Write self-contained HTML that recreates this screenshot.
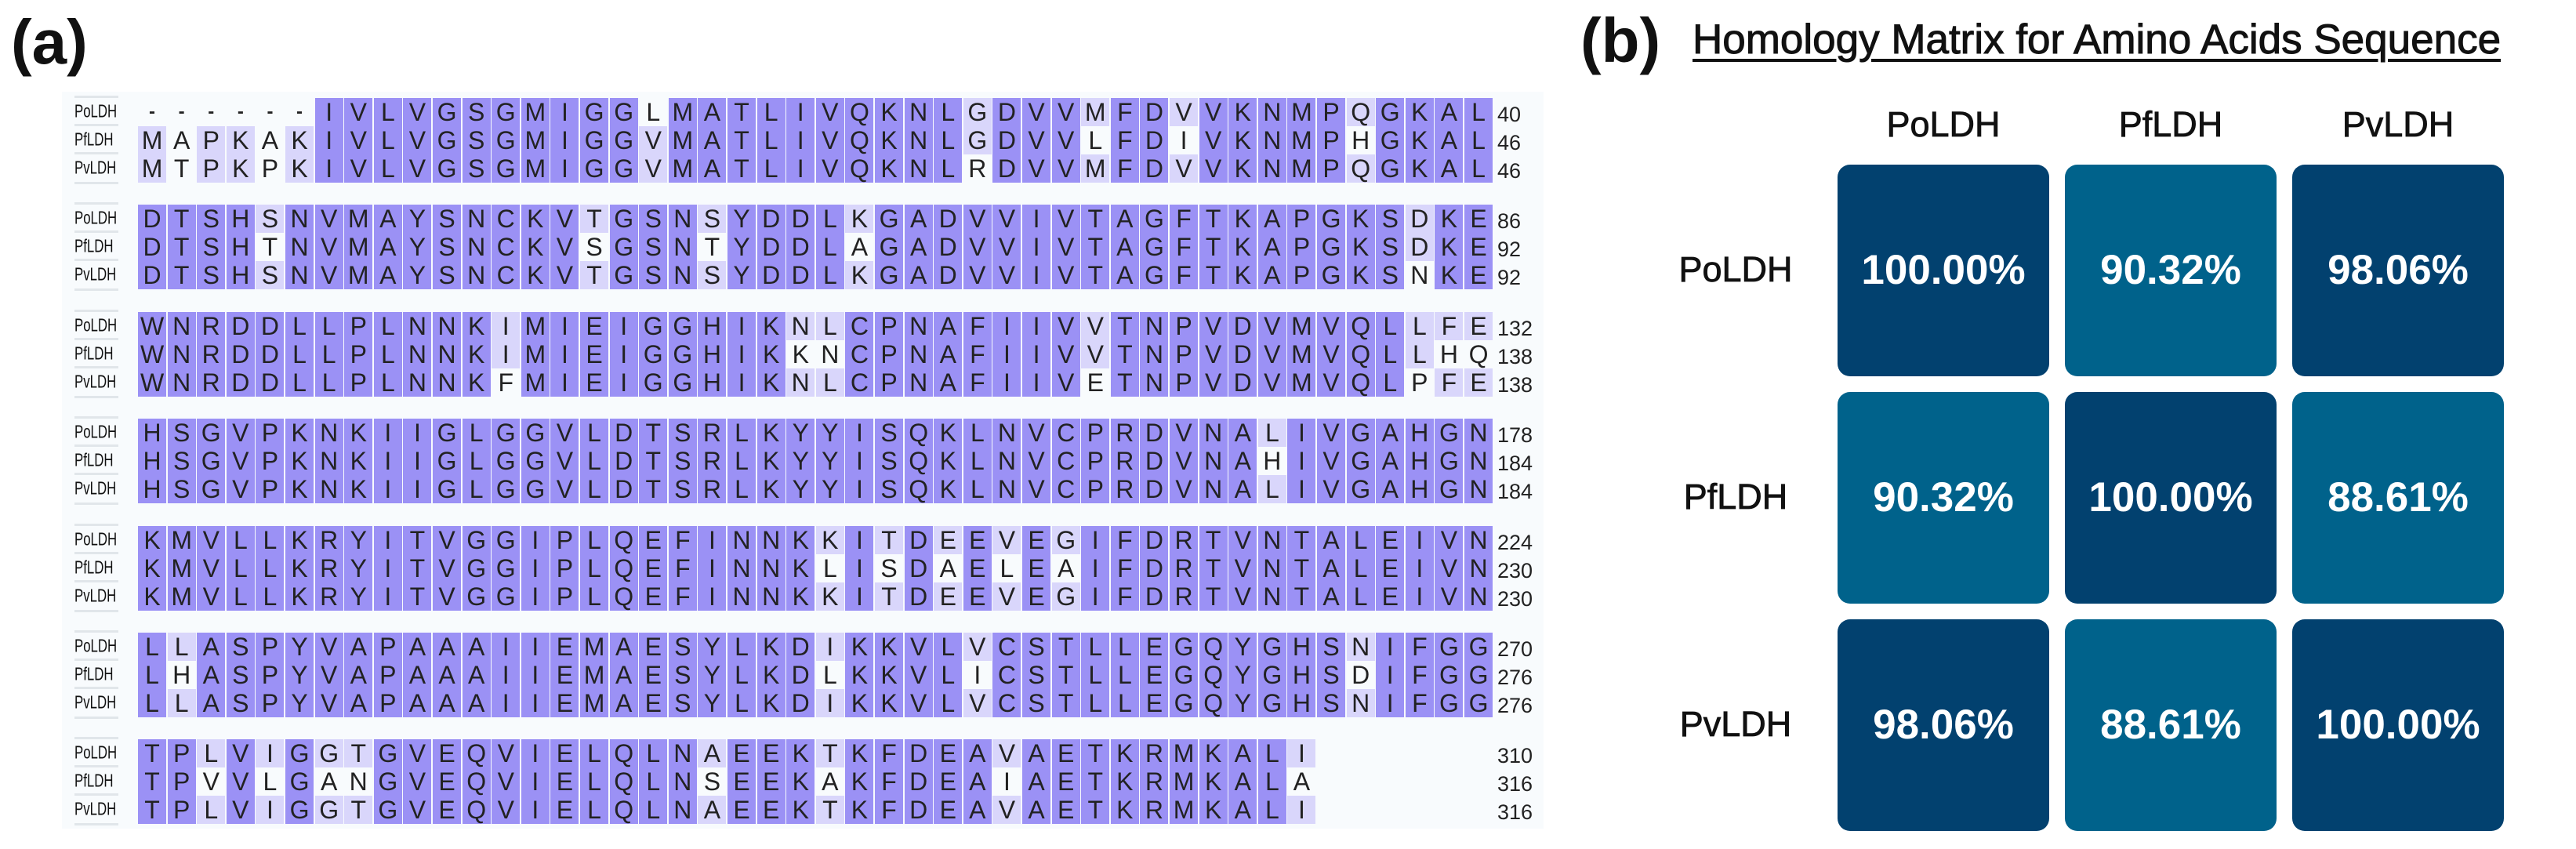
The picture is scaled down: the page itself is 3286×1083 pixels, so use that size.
<!DOCTYPE html>
<html><head><meta charset="utf-8">
<style>
html,body{margin:0;padding:0;background:#fff;}
body{width:3286px;height:1083px;position:relative;overflow:hidden;font-family:"Liberation Sans",sans-serif;}
.abs{position:absolute;}
#panel{position:absolute;left:79px;top:117px;width:1890px;height:940px;background:#f8fbfd;}
.seq{position:absolute;left:176px;height:36px;line-height:36px;font-size:32px;color:#222;white-space:pre;}
.lab{position:absolute;left:95px;width:66px;height:36px;line-height:36px;font-size:21px;color:#111;transform-origin:left center;}
.num{position:absolute;left:1910px;font-size:27px;color:#222;height:36px;line-height:42px;}
.cell{position:absolute;width:270px;height:270px;border-radius:16px;color:#fff;font-weight:bold;font-size:53px;text-align:center;line-height:270px;}
.d{background:#02416f;}
.m{background:#00628b;}
.hdr{position:absolute;font-size:45px;color:#111;text-align:center;width:270px;-webkit-text-stroke:0.8px #111;}
.rl{position:absolute;font-size:45px;color:#111;width:200px;text-align:center;-webkit-text-stroke:0.8px #111;}
</style></head><body>
<div class="abs" style="left:14px;top:8px;font-size:80px;font-weight:bold;color:#111;">(a)</div>
<div id="panel"></div>
<div id="aln">
<div class="seq" data-b="0" data-r="0">------IVLVGSGMIGGLMATLIVQKNLGDVVMFDVVKNMPQGKAL</div>
<div class="seq" data-b="0" data-r="1">MAPKAKIVLVGSGMIGGVMATLIVQKNLGDVVLFDIVKNMPHGKAL</div>
<div class="seq" data-b="0" data-r="2">MTPKPKIVLVGSGMIGGVMATLIVQKNLRDVVMFDVVKNMPQGKAL</div>
<div class="seq" data-b="1" data-r="0">DTSHSNVMAYSNCKVTGSNSYDDLKGADVVIVTAGFTKAPGKSDKE</div>
<div class="seq" data-b="1" data-r="1">DTSHTNVMAYSNCKVSGSNTYDDLAGADVVIVTAGFTKAPGKSDKE</div>
<div class="seq" data-b="1" data-r="2">DTSHSNVMAYSNCKVTGSNSYDDLKGADVVIVTAGFTKAPGKSNKE</div>
<div class="seq" data-b="2" data-r="0">WNRDDLLPLNNKIMIEIGGHIKNLCPNAFIIVVTNPVDVMVQLLFE</div>
<div class="seq" data-b="2" data-r="1">WNRDDLLPLNNKIMIEIGGHIKKNCPNAFIIVVTNPVDVMVQLLHQ</div>
<div class="seq" data-b="2" data-r="2">WNRDDLLPLNNKFMIEIGGHIKNLCPNAFIIVETNPVDVMVQLPFE</div>
<div class="seq" data-b="3" data-r="0">HSGVPKNKIIGLGGVLDTSRLKYYISQKLNVCPRDVNALIVGAHGN</div>
<div class="seq" data-b="3" data-r="1">HSGVPKNKIIGLGGVLDTSRLKYYISQKLNVCPRDVNAHIVGAHGN</div>
<div class="seq" data-b="3" data-r="2">HSGVPKNKIIGLGGVLDTSRLKYYISQKLNVCPRDVNALIVGAHGN</div>
<div class="seq" data-b="4" data-r="0">KMVLLKRYITVGGIPLQEFINNKKITDEEVEGIFDRTVNTALEIVN</div>
<div class="seq" data-b="4" data-r="1">KMVLLKRYITVGGIPLQEFINNKLISDAELEAIFDRTVNTALEIVN</div>
<div class="seq" data-b="4" data-r="2">KMVLLKRYITVGGIPLQEFINNKKITDEEVEGIFDRTVNTALEIVN</div>
<div class="seq" data-b="5" data-r="0">LLASPYVAPAAAIIEMAESYLKDIKKVLVCSTLLEGQYGHSNIFGG</div>
<div class="seq" data-b="5" data-r="1">LHASPYVAPAAAIIEMAESYLKDLKKVLICSTLLEGQYGHSDIFGG</div>
<div class="seq" data-b="5" data-r="2">LLASPYVAPAAAIIEMAESYLKDIKKVLVCSTLLEGQYGHSNIFGG</div>
<div class="seq" data-b="6" data-r="0">TPLVIGGTGVEQVIELQLNAEEKTKFDEAVAETKRMKALI</div>
<div class="seq" data-b="6" data-r="1">TPVVLGANGVEQVIELQLNSEEKAKFDEAIAETKRMKALA</div>
<div class="seq" data-b="6" data-r="2">TPLVIGGTGVEQVIELQLNAEEKTKFDEAVAETKRMKALI</div>
</div>
<div id="labs">
<div class="lab" data-b="0" data-r="0">PoLDH</div><div class="lab" data-b="0" data-r="1">PfLDH</div><div class="lab" data-b="0" data-r="2">PvLDH</div>
<div class="lab" data-b="1" data-r="0">PoLDH</div><div class="lab" data-b="1" data-r="1">PfLDH</div><div class="lab" data-b="1" data-r="2">PvLDH</div>
<div class="lab" data-b="2" data-r="0">PoLDH</div><div class="lab" data-b="2" data-r="1">PfLDH</div><div class="lab" data-b="2" data-r="2">PvLDH</div>
<div class="lab" data-b="3" data-r="0">PoLDH</div><div class="lab" data-b="3" data-r="1">PfLDH</div><div class="lab" data-b="3" data-r="2">PvLDH</div>
<div class="lab" data-b="4" data-r="0">PoLDH</div><div class="lab" data-b="4" data-r="1">PfLDH</div><div class="lab" data-b="4" data-r="2">PvLDH</div>
<div class="lab" data-b="5" data-r="0">PoLDH</div><div class="lab" data-b="5" data-r="1">PfLDH</div><div class="lab" data-b="5" data-r="2">PvLDH</div>
<div class="lab" data-b="6" data-r="0">PoLDH</div><div class="lab" data-b="6" data-r="1">PfLDH</div><div class="lab" data-b="6" data-r="2">PvLDH</div>
</div>
<div id="nums">
<div class="num" data-b="0" data-r="0">40</div><div class="num" data-b="0" data-r="1">46</div><div class="num" data-b="0" data-r="2">46</div>
<div class="num" data-b="1" data-r="0">86</div><div class="num" data-b="1" data-r="1">92</div><div class="num" data-b="1" data-r="2">92</div>
<div class="num" data-b="2" data-r="0">132</div><div class="num" data-b="2" data-r="1">138</div><div class="num" data-b="2" data-r="2">138</div>
<div class="num" data-b="3" data-r="0">178</div><div class="num" data-b="3" data-r="1">184</div><div class="num" data-b="3" data-r="2">184</div>
<div class="num" data-b="4" data-r="0">224</div><div class="num" data-b="4" data-r="1">230</div><div class="num" data-b="4" data-r="2">230</div>
<div class="num" data-b="5" data-r="0">270</div><div class="num" data-b="5" data-r="1">276</div><div class="num" data-b="5" data-r="2">276</div>
<div class="num" data-b="6" data-r="0">310</div><div class="num" data-b="6" data-r="1">316</div><div class="num" data-b="6" data-r="2">316</div>
</div>

<div class="abs" style="left:2016px;top:6px;font-size:80px;font-weight:bold;color:#111;">(b)</div>
<div class="abs" style="left:2159px;top:20px;font-size:53px;color:#111;-webkit-text-stroke:1px #111;text-decoration:underline;text-decoration-thickness:4px;text-underline-offset:7px;white-space:nowrap;">Homology Matrix for Amino Acids Sequence</div>

<div class="hdr" style="left:2344px;top:133px;">PoLDH</div>
<div class="hdr" style="left:2634px;top:133px;">PfLDH</div>
<div class="hdr" style="left:2924px;top:133px;">PvLDH</div>
<div class="rl" style="left:2114px;top:318px;">PoLDH</div>
<div class="rl" style="left:2114px;top:608px;">PfLDH</div>
<div class="rl" style="left:2114px;top:898px;">PvLDH</div>

<div class="cell d" style="left:2344px;top:210px;">100.00%</div>
<div class="cell m" style="left:2634px;top:210px;">90.32%</div>
<div class="cell d" style="left:2924px;top:210px;">98.06%</div>
<div class="cell m" style="left:2344px;top:500px;">90.32%</div>
<div class="cell d" style="left:2634px;top:500px;">100.00%</div>
<div class="cell m" style="left:2924px;top:500px;">88.61%</div>
<div class="cell d" style="left:2344px;top:790px;">98.06%</div>
<div class="cell m" style="left:2634px;top:790px;">88.61%</div>
<div class="cell d" style="left:2924px;top:790px;">100.00%</div>

<script>
(function(){
  var BT=125, BP=136.4, RH=36, X0=176, CW=37.6;
  function top(b,r){return BT+b*BP+r*RH;}
  var seqs=document.querySelectorAll('.seq');
  var rows={};
  seqs.forEach(function(s){var b=+s.dataset.b,r=+s.dataset.r;(rows[b]=rows[b]||[])[r]=s.textContent;});
  seqs.forEach(function(s){
    var b=+s.dataset.b,r=+s.dataset.r,t=s.textContent,blk=rows[b];
    s.style.top=top(b,r)+'px';
    s.textContent='';
    for(var i=0;i<t.length;i++){
      var c=t[i],bg=null;
      if(c!=='-'){
        var m=0;for(var k=0;k<3;k++){if(k!==r&&blk[k][i]===c)m++;}
        if(m===2)bg='#9b91f5';else if(m===1)bg='#d9d6fb';
      }
      var d=document.createElement('div');
      d.style.cssText='position:absolute;top:0;height:36px;width:'+(CW-1.5)+'px;left:'+(i*CW)+'px;text-align:center;'+(bg?'background:'+bg+';':'');
      if(c==='-'){d.style.fontWeight='bold';d.style.fontSize='24px';}
      d.textContent=c;
      s.appendChild(d);
    }
  });
  document.querySelectorAll('.lab').forEach(function(l){
    var b=+l.dataset.b,r=+l.dataset.r,y=top(b,r);
    l.style.top=y+'px';l.style.transform='scale(0.8,1.1)';
    var g=document.createElement('div');
    g.style.cssText='position:absolute;left:95px;width:56px;height:3px;background:#e1e6ea;top:'+(y-3)+'px';
    document.body.appendChild(g);
    if(r===2){var g2=g.cloneNode();g2.style.top=(y+RH-1)+'px';document.body.appendChild(g2);}
  });
  document.querySelectorAll('.num').forEach(function(n){
    n.style.top=top(+n.dataset.b,+n.dataset.r)+'px';
  });
})();
</script>
</body></html>
